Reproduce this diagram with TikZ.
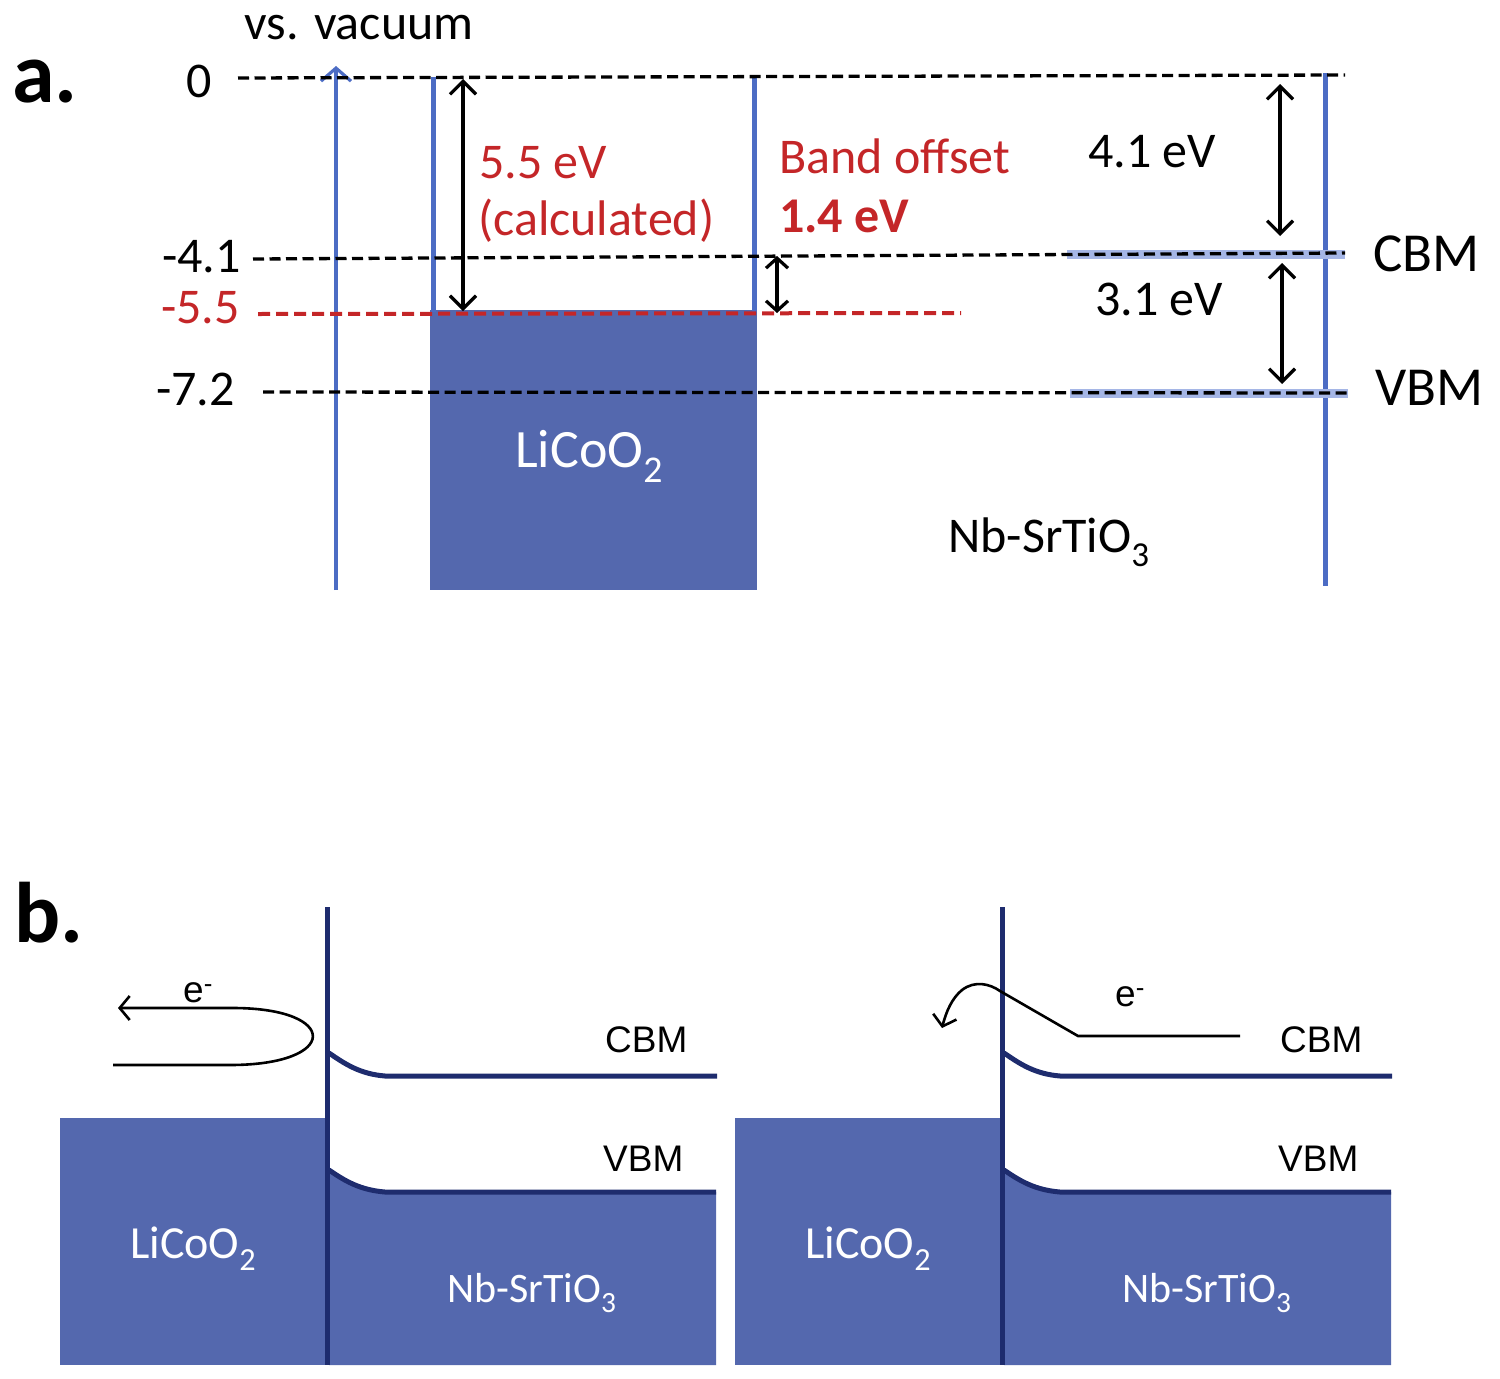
\documentclass[tikz,border=0pt]{standalone}
\usepackage{fontspec}
\setmainfont{Carlito}
\newfontfamily\arialf{Liberation Sans}
\usetikzlibrary{arrows.meta}
\definecolor{fillblue}{RGB}{84,104,174}
\definecolor{navy}{RGB}{30,44,110}
\definecolor{wallblue}{RGB}{76,108,196}
\definecolor{hiblue}{RGB}{165,182,230}
\definecolor{myred}{RGB}{196,38,40}
\begin{document}
\begin{tikzpicture}[x=1pt,y=-1pt,
  lbl/.style={font=\fontsize{50}{60}\selectfont, inner sep=0pt},
  redlbl/.style={lbl, text=myred},
  biglbl/.style={font=\fontsize{55}{66}\selectfont, inner sep=0pt},
  panellbl/.style={font=\fontsize{86}{100}\selectfont\bfseries, inner sep=0pt},
  blbl/.style={font=\arialf\fontsize{37}{44}\selectfont, inner sep=0pt},
  whitelbl/.style={font=\fontsize{46}{55}\selectfont, text=white, inner sep=0pt},
  levelline/.style={black, line width=3.3pt, dash pattern=on 11pt off 5.5pt},
  redlevel/.style={myred, line width=4pt, dash pattern=on 12pt off 6pt},
  wall/.style={wallblue, line width=5pt},
  hiline/.style={hiblue, line width=9pt},
  dblarrow/.style={black, line width=3.2pt, {Straight Barb[length=13pt,width=26pt]}-{Straight Barb[length=13pt,width=26pt]}},
  smallarrow/.style={black, line width=3.2pt, {Straight Barb[length=10pt,width=22pt]}-{Straight Barb[length=10pt,width=22pt]}},
  band/.style={navy, line width=5pt},
  epath/.style={black, line width=2.6pt},
]
\useasboundingbox (0,0) rectangle (1500,1379);

% ================= panel a =================
\node[panellbl, anchor=base west] (pa) at (12,102) {a.};
\node[lbl, anchor=base] (vac) at (359,39) {vs. vacuum};

\node[lbl, anchor=base east] (l0) at (212,97) {0};
\node[lbl, anchor=base east] (l41) at (241,272) {-4.1};
\node[redlbl, anchor=base east] (l55) at (240,323) {-5.5};
\node[lbl, anchor=base east] (l72) at (235,405) {-7.2};

% LiCoO2 block
\fill[fillblue] (430,310) rectangle (757,590);
\coordinate (wl0) at (433,77); \coordinate (wl1) at (433,312);
\coordinate (wr0) at (754,77); \coordinate (wr1) at (754,312);
\draw[wall] (wl0) -- (wl1);
\draw[wall] (wr0) -- (wr1);

% vacuum axis
\coordinate (ax0) at (336,590); \coordinate (ax1) at (336,66);
\draw[wallblue, line width=3.2pt, -{Straight Barb[length=13pt,width=30pt]}] (ax0) -- (ax1);

% Nb-SrTiO3 right wall
\coordinate (rw0) at (1325,73); \coordinate (rw1) at (1325,586);
\draw[wall] (rw0) -- (rw1);

% CBM / VBM highlight
\coordinate (hc0) at (1067,254); \coordinate (hc1) at (1345,254);
\coordinate (hv0) at (1070,393); \coordinate (hv1) at (1348,393);
\draw[hiline] (hc0) -- (hc1);
\draw[hiline] (hv0) -- (hv1);

% level lines
\coordinate (d0a) at (238,78);  \coordinate (d0b) at (1345,75);
\coordinate (d41a) at (253,259); \coordinate (d41b) at (1345,253);
\coordinate (d55a) at (258,314); \coordinate (d55b) at (961,313);
\coordinate (d72a) at (263,392); \coordinate (d72b) at (1348,393);
\draw[levelline] (d0a) -- (d0b);
\draw[levelline] (d41a) -- (d41b);
\draw[levelline] (d72a) -- (d72b);
\draw[redlevel] (d55a) -- (d55b);

% double arrows
\coordinate (a55t) at (463,79);  \coordinate (a55b) at (463,311);
\coordinate (a14t) at (777,256); \coordinate (a14b) at (777,313);
\coordinate (a41t) at (1280,84); \coordinate (a41b) at (1280,236);
\coordinate (a31t) at (1282,263); \coordinate (a31b) at (1282,384);
\draw[dblarrow] (a55t) -- (a55b);
\draw[smallarrow] (a14t) -- (a14b);
\draw[dblarrow] (a41t) -- (a41b);
\draw[dblarrow] (a31t) -- (a31b);

% labels
\node[redlbl, anchor=base west] (t55) at (479,178) {5.5 eV};
\node[redlbl, anchor=base west] (tcalc) at (478,235) {(calculated)};
\node[redlbl, anchor=base west] (tbo) at (779,173) {Band offset};
\node[redlbl, anchor=base west, font=\fontsize{50}{60}\selectfont\bfseries] (t14) at (779,232) {1.4 eV};
\node[lbl, anchor=base west] (t41) at (1088,167) {4.1 eV};
\node[lbl, anchor=base west] (t31) at (1095,315) {3.1 eV};
\node[biglbl, anchor=base west] (tcbm) at (1373,271) {CBM};
\node[biglbl, anchor=base west] (tvbm) at (1375,405) {VBM};
\node[whitelbl, font=\fontsize{54}{64}\selectfont, anchor=base west] (tlco) at (515,467) {LiCoO\textsubscript{2}};
\node[lbl, anchor=base west] (tnb) at (948,552) {Nb-SrTiO\textsubscript{3}};

% ================= panel b =================
\node[panellbl, anchor=base west] (pb) at (14,942) {b.};

\foreach \dx in {0,675}{
\begin{scope}[xshift=\dx pt]
  \fill[fillblue] (60,1118) rectangle (327,1365);
  \fill[fillblue] (329,1170) .. controls (345,1181) and (360,1190) .. (385,1192) -- (716,1192) -- (716,1365) -- (329,1365) -- cycle;
  \draw[band] (329,1170) .. controls (345,1181) and (360,1190) .. (385,1192) -- (716,1192);
  \draw[band] (329,1053) .. controls (345,1064) and (360,1074) .. (385,1076) -- (717,1076);
  \coordinate (if0\dx) at (327,907); \coordinate (if1\dx) at (327,1365);
  \draw[navy, line width=5pt] (if0\dx) -- (if1\dx);
  \node[blbl, anchor=base west] (bcbm\dx) at (605,1052) {CBM};
  \node[blbl, anchor=base west] (bvbm\dx) at (603,1171) {VBM};
  \node[whitelbl, anchor=base west] (blco\dx) at (130,1258) {LiCoO\textsubscript{2}};
  \node[whitelbl, font=\fontsize{42}{50}\selectfont, anchor=base west] (bnb\dx) at (447,1302) {Nb-SrTiO\textsubscript{3}};
\end{scope}
}

% electron paths
\coordinate (ls) at (113,1065); \coordinate (le) at (118,1008);
\draw[epath, -{Straight Barb[length=10pt,width=24pt]}] (ls) -- (230,1065) .. controls (340,1065) and (340,1008) .. (233,1008) -- (le);
\node[blbl, anchor=base west] (el) at (183,1002) {e\textsuperscript{-}};

\coordinate (rs) at (1240,1036); \coordinate (re) at (942,1028);
\draw[epath, -{Straight Barb[length=10pt,width=24pt]}] (rs) -- (1078,1036) -- (1000,991) .. controls (990,984) and (975,980) .. (962,990) .. controls (952,998) and (946,1012) .. (re);
\node[blbl, anchor=base west] (er) at (1115,1006) {e\textsuperscript{-}};
\end{tikzpicture}
\end{document}
